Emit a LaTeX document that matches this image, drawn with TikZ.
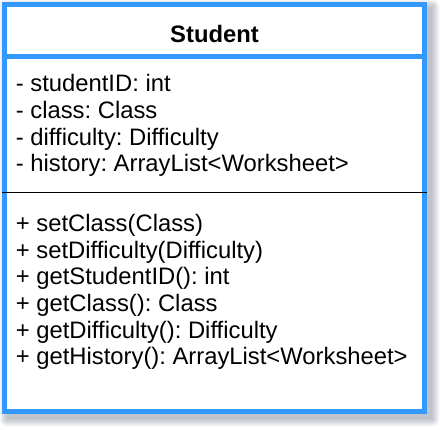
\documentclass[tikz,border=0pt]{standalone}
\usepackage{fontspec}
\setmainfont{Liberation Sans}
\usepackage{xcolor}
\definecolor{umlblue}{HTML}{3399FF}
\definecolor{shadowgray}{HTML}{4A5068}
\usetikzlibrary{positioning}
\frenchspacing

\begin{document}
\begin{tikzpicture}[
        x=1pt, y=-1pt,
        classbox/.style={draw=umlblue, line width=5.5pt, fill=white, minimum width=420pt, minimum height=407pt, inner sep=0pt},
        divider/.style={draw=umlblue, line width=5.5pt},
        rule/.style={draw=black, line width=1.4pt},
        classname/.style={font=\fontsize{23.8}{26.7}\selectfont\bfseries, inner sep=0pt, anchor=base},
        member/.style={font=\fontsize{23.8}{26.7}\selectfont, inner sep=0pt, anchor=base west}
    ]
    \useasboundingbox (0,0) rectangle (442,430);

    % soft shadow
    \foreach \r in {0,...,7}
        \fill[shadowgray, opacity=0.05, rounded corners=\r pt] ({6.75-\r},{6.75-\r}) rectangle ({432.25+\r},{419.25+\r});

    % class frame
    \node[classbox] (box) at (214.5,208) {};
    \coordinate (titlesep) at (0,56.5);
    \coordinate (membersep) at (0,192.7);

    \node[classname] (title) at (214.5,42.5) {Student};
    \draw[divider] (box.west |- titlesep) -- (box.east |- titlesep);
    \draw[rule] (box.west |- membersep) -- (box.east |- membersep);

    % attributes
    \foreach \txt [count=\i] in {- studentID: int, - class: Class, - difficulty: Difficulty, - history: ArrayList<Worksheet>}
        \node[member] (attr\i) at (15.7,{65+26.7*\i}) {\txt};

    % operations
    \foreach \txt [count=\i] in {+ setClass(Class), + setDifficulty(Difficulty), + getStudentID(): int, + getClass(): Class, + getDifficulty(): Difficulty, + getHistory(): ArrayList<Worksheet>}
        \node[member] (op\i) at (15.7,{204.8+26.7*\i}) {\txt};
\end{tikzpicture}
\end{document}
